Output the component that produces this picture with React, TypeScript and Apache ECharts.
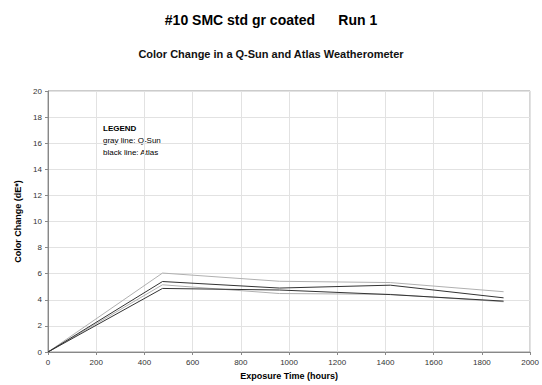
import React, { useEffect, useRef } from "react";
import * as echarts from "echarts";

const hours = [0, 475, 960, 1420, 1890];
const qsunA = [0, 6.05, 5.42, 5.32, 4.62];
const qsunB = [0, 5.15, 4.48, 4.42, 3.85];
const atlasA = [0, 5.4, 4.9, 5.12, 4.15];
const atlasB = [0, 4.87, 4.75, 4.4, 3.9];

const titleText = "#10 SMC std gr coated      Run 1";
const subtitleText = "Color Change in a Q-Sun and Atlas Weatherometer";
const xName = "Exposure Time (hours)";
const yName = "Color Change (dE*)";
const legendLines = ["LEGEND", "gray line: Q-Sun", "black line: Atlas"];

const pair = (ys: number[]) => hours.map((h, i) => [h, ys[i]]);

export default function App() {
  const ref = useRef<HTMLDivElement>(null);
  useEffect(() => {
    if (!ref.current) return;
    const chart = echarts.init(ref.current, null, { renderer: "svg" });
    const font = "'Liberation Sans', Arial, sans-serif";
    const mk = (ys: number[], color: string, w: number) => ({
      type: "line",
      data: pair(ys),
      symbol: "none",
      lineStyle: { color, width: w },
      silent: true,
    });
    chart.setOption({
      animation: false,
      backgroundColor: "#ffffff",
      textStyle: { fontFamily: font },
      title: [
        {
          text: titleText,
          left: "center",
          top: 8,
          textStyle: { fontSize: 14, fontWeight: "bold", color: "#000", fontFamily: font },
        },
        {
          text: subtitleText,
          left: "center",
          top: 43,
          textStyle: { fontSize: 11, fontWeight: "bold", color: "#111", fontFamily: font },
        },
      ],
      grid: { left: 48, right: 5, top: 91, bottom: 32, containLabel: false, show: true, borderColor: "#999", borderWidth: 1 },
      xAxis: {
        type: "value",
        min: 0,
        max: 2000,
        interval: 200,
        name: xName,
        nameLocation: "middle",
        nameGap: 19,
        nameTextStyle: { fontSize: 9, fontWeight: "bold", color: "#000" },
        axisLine: { show: true, lineStyle: { color: "#888" } },
        axisTick: { show: true, length: 3, lineStyle: { color: "#888" } },
        axisLabel: { fontSize: 8, color: "#333", margin: 6, formatter: (v: number) => String(v) },
        splitLine: { show: true, lineStyle: { color: "#e2e2e2" } },
      },
      yAxis: {
        type: "value",
        min: 0,
        max: 20,
        interval: 2,
        name: yName,
        nameLocation: "middle",
        nameGap: 24,
        nameTextStyle: { fontSize: 9, fontWeight: "bold", color: "#000" },
        axisLine: { show: true, lineStyle: { color: "#888" } },
        axisTick: { show: true, length: 3, lineStyle: { color: "#888" } },
        axisLabel: { fontSize: 8, color: "#333", margin: 6, formatter: (v: number) => String(v) },
        splitLine: { show: true, lineStyle: { color: "#e2e2e2" } },
      },
      series: [
        mk(qsunA, "#b0b0b0", 1),
        mk(qsunB, "#b0b0b0", 1),
        mk(atlasA, "#333333", 1),
        mk(atlasB, "#333333", 1),
      ],
      graphic: [
        {
          type: "text",
          left: 103,
          top: 124,
          style: { text: legendLines[0], fontSize: 8, fontWeight: "bold", fill: "#000", fontFamily: font },
        },
        {
          type: "text",
          left: 103,
          top: 136,
          style: { text: legendLines[1], fontSize: 8, fill: "#000", fontFamily: font },
        },
        {
          type: "text",
          left: 103,
          top: 148,
          style: { text: legendLines[2], fontSize: 8, fill: "#000", fontFamily: font },
        },
      ],
    });
    return () => chart.dispose();
  }, []);
  return <div ref={ref} style={{ width: 542, height: 385, position: "absolute", left: 0, top: 0 }} />;
}
